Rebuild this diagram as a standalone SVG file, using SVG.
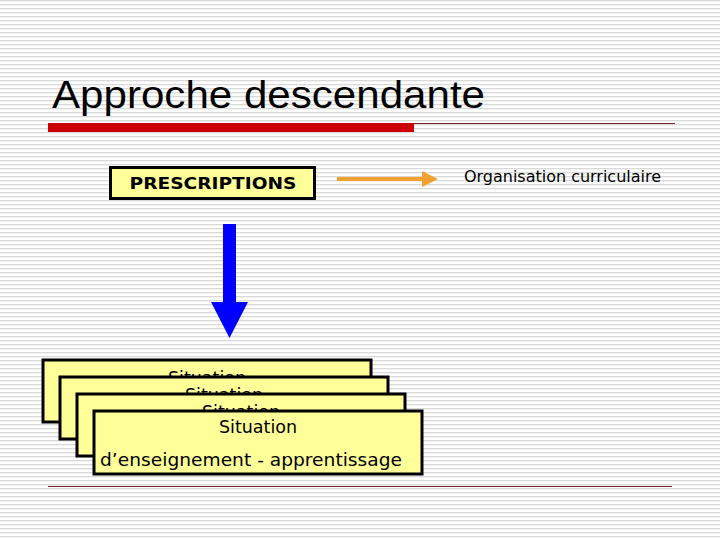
<svg xmlns="http://www.w3.org/2000/svg" width="720" height="540" viewBox="0 0 720 540">
<defs>
<pattern id="stripes" x="0" y="0" width="720" height="4" patternUnits="userSpaceOnUse">
<rect x="0" y="0" width="720" height="4" fill="#ffffff"/>
<rect x="0" y="0" width="720" height="1.3" fill="#d9d9d9"/>
</pattern>
<marker id="orangeHead" markerWidth="4" markerHeight="4" refX="2" refY="2" orient="auto" markerUnits="strokeWidth">
<path d="M0,0 L4,2 L0,4 Z" fill="#f0a030"/>
</marker>
</defs>
<style>
.box{fill:#ffff99;stroke:#000000;stroke-width:3}
.t{font-family:"DejaVu Sans","Verdana",sans-serif;fill:#000000}
</style>
<rect x="0" y="0" width="720" height="540" fill="url(#stripes)"/>
<g id="title">
<text x="52" y="108" font-family="'Liberation Sans',Arial,sans-serif" font-size="38" textLength="433" lengthAdjust="spacingAndGlyphs" fill="#000">Approche descendante</text>
<rect x="48" y="123" width="366" height="9" fill="#cc0000"/>
<line x1="414" y1="123.5" x2="675" y2="123.5" stroke="#7a1f2b" stroke-width="1"/>
</g>
<g id="prescriptions">
<rect class="box" x="110.5" y="167.5" width="204" height="31"/>
<text class="t" x="213" y="189" font-size="15.5" font-weight="bold" text-anchor="middle" textLength="167" lengthAdjust="spacingAndGlyphs">PRESCRIPTIONS</text>
</g>
<g id="organisation">
<text class="t" x="464" y="182" font-size="15.5" textLength="197" lengthAdjust="spacingAndGlyphs">Organisation curriculaire</text>
</g>
<g id="connectors">
<line x1="337" y1="179" x2="430" y2="179" stroke="#f0a030" stroke-width="4" marker-end="url(#orangeHead)"/>
<path d="M223,224 L236,224 L236,302 L248,302 L229.5,338 L211,302 L223,302 Z" fill="#0000ff"/>
</g>
<g id="situation1">
<rect class="box" x="43" y="360" width="328" height="62"/>
<text class="t" x="207" y="384" font-size="17.5" text-anchor="middle">Situation</text>
</g>
<g id="situation2">
<rect class="box" x="60" y="377" width="328" height="62"/>
<text class="t" x="224" y="401" font-size="17.5" text-anchor="middle">Situation</text>
</g>
<g id="situation3">
<rect class="box" x="77" y="394" width="328" height="62"/>
<text class="t" x="241" y="418" font-size="17.5" text-anchor="middle">Situation</text>
</g>
<g id="situation4">
<rect class="box" x="94" y="411" width="328" height="63"/>
<text class="t" x="258" y="433" font-size="17.5" text-anchor="middle">Situation</text>
<text class="t" x="251" y="466" font-size="17" text-anchor="middle" textLength="302" lengthAdjust="spacingAndGlyphs">d’enseignement - apprentissage</text>
</g>
<g id="footer">
<line x1="48" y1="486.5" x2="672" y2="486.5" stroke="#6b1f2b" stroke-width="1"/>
</g>
</svg>
